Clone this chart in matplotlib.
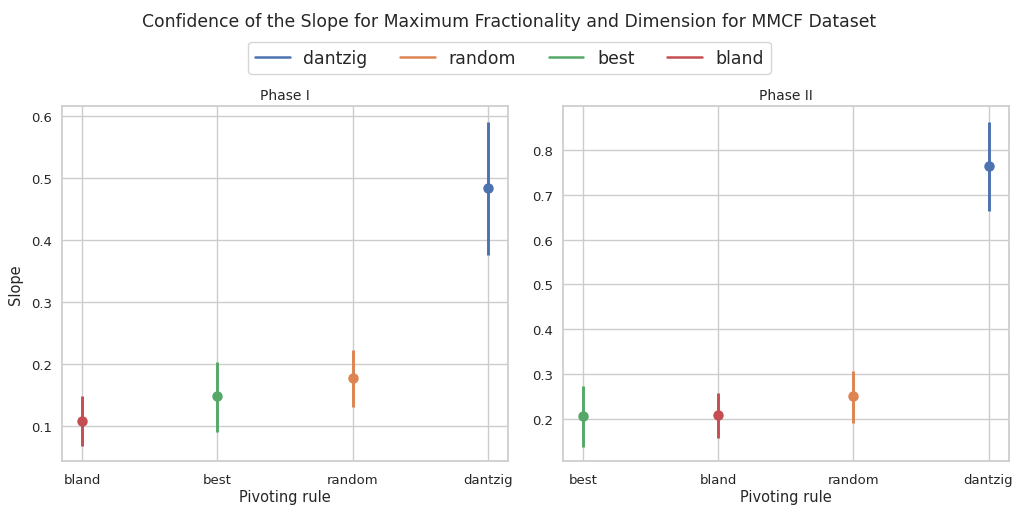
import matplotlib
matplotlib.use("Agg")
import matplotlib.pyplot as plt
from matplotlib.lines import Line2D
import seaborn as sns

sns.set_theme(style="whitegrid")
plt.rcParams['font.family'] = ['DejaVu Sans']

rules = ["dantzig", "random", "best", "bland"]
palette = sns.color_palette("deep")
rule_colors = {r: palette[i] for i, r in enumerate(rules)}

# Phase I: slope estimates with confidence interval bounds
phase1_order = ["bland", "best", "random", "dantzig"]
phase1_mean = [0.108, 0.148, 0.177, 0.484]
phase1_low = [0.068, 0.091, 0.131, 0.376]
phase1_high = [0.148, 0.204, 0.222, 0.590]

# Phase II: slope estimates with confidence interval bounds
phase2_order = ["best", "bland", "random", "dantzig"]
phase2_mean = [0.206, 0.208, 0.250, 0.764]
phase2_low = [0.138, 0.158, 0.191, 0.664]
phase2_high = [0.274, 0.257, 0.307, 0.863]

fig, axes = plt.subplots(1, 2, figsize=(10.19, 5.06), dpi=100)
fig.subplots_adjust(left=0.0608, right=0.990, bottom=0.0864, top=0.789, wspace=0.123)

panels = [
    (axes[0], "Phase I", phase1_order, phase1_mean, phase1_low, phase1_high, (0.0436, 0.616)),
    (axes[1], "Phase II", phase2_order, phase2_mean, phase2_low, phase2_high, (0.105, 0.899)),
]

for ax, title, order, mean, low, high, ylim in panels:
    for i, (r, m, lo, hi) in enumerate(zip(order, mean, low, high)):
        c = rule_colors[r]
        ax.plot([i, i], [lo, hi], color=c, lw=2.1, solid_capstyle="butt", zorder=3)
        ax.plot([i], [m], "o", color=c, markersize=6.5, zorder=4)
    ax.set_xticks(range(len(order)))
    ax.set_xticklabels(order)
    ax.set_xlim(-0.15, len(order) - 1 + 0.15)
    ax.set_ylim(*ylim)
    ax.set_title(title, fontsize=10, pad=5)
    ax.tick_params(axis="x", labelsize=9.5, length=0, pad=8.5)
    ax.tick_params(axis="y", labelsize=9.5, length=0, pad=7)
    ax.set_xlabel("Pivoting rule", fontsize=10.5, labelpad=2)
    for s in ax.spines.values():
        s.set_color("#cccccc")

axes[0].set_ylabel("Slope", fontsize=10.5, labelpad=6)
axes[1].set_ylabel("")

handles = [Line2D([0], [0], color=rule_colors[r], lw=1.8) for r in rules]
fig.legend(handles, rules, loc="upper center", ncol=4, bbox_to_anchor=(0.5, 0.932),
           fontsize=12.4, frameon=True, handlelength=2.0, columnspacing=1.9)
fig.suptitle("Confidence of the Slope for Maximum Fractionality and Dimension for MMCF Dataset",
             fontsize=12.4, y=0.975)

fig.savefig("out.png", dpi=100)
